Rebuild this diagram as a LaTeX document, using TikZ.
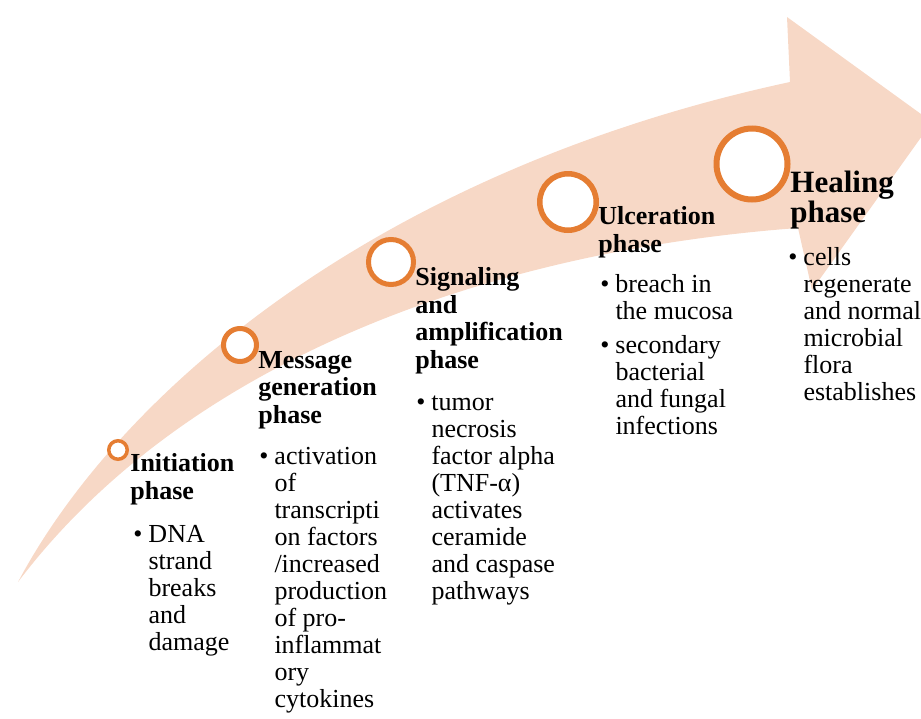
\documentclass[tikz,border=0pt]{standalone}
\usepackage{fontspec}
\setmainfont{Liberation Serif}
\definecolor{arrowPeach}{RGB}{247,216,198}
\definecolor{ringOrange}{RGB}{229,125,50}
\newcommand{\listfont}{\fontsize{13}{13.5}\selectfont}
\newcommand{\titlefont}{\fontsize{13}{13.75}\selectfont\bfseries}
\newcommand{\bigtitlefont}{\fontsize{15.5}{15}\selectfont\bfseries}

\begin{document}
\begin{tikzpicture}[x = 0.5pt, y = -0.5pt, font=\listfont]
	\tikzstyle{ringStyle}=[shape = circle, draw = ringOrange, fill = white, inner sep = 0pt]
	\tikzstyle{titleStyle}=[anchor = base west, align = left, inner sep = 0pt, font = \titlefont]
	\tikzstyle{listStyle}=[anchor = base west, inner sep = 0pt]
	\useasboundingbox (0,0) rectangle (921,718);
	\clip (0,0) rectangle (921,718);
	% the big curved arrow
	\fill[arrowPeach] (18,582) .. controls (120,390) and (380,170) .. (790,82)
		-- (787,17) -- (932,122) -- (812,290) -- (798,228)
		.. controls (500,250) and (190,355) .. (18,582) -- cycle;
	% rings
	\node[ringStyle, minimum size = 9.25pt, line width = 1.75pt] (r0) at (118,450) {};
	\node[ringStyle, minimum size = 16.5pt, line width = 2.5pt] (r1) at (240,345) {};
	\node[ringStyle, minimum size = 22.5pt, line width = 2.5pt] (r2) at (391,262) {};
	\node[ringStyle, minimum size = 28.25pt, line width = 2.75pt] (r3) at (568,202) {};
	\node[ringStyle, minimum size = 35.5pt, line width = 3pt] (r4) at (752,164) {};
	% phase titles (placed at the baseline of their last line)
	\node[titleStyle] (t0) at (130,499) {Initiation\\phase};
	\node[titleStyle] (t1) at (258,423) {Message\\generation\\phase};
	\node[titleStyle] (t2) at (415,368) {Signaling\\and\\amplification\\phase};
	\node[titleStyle] (t3) at (598,252) {Ulceration\\phase};
	\node[titleStyle, font = \bigtitlefont] (t4) at (790,222) {Healing\\phase};
	% bullet lists
	\node[listStyle] (l0) at (133,542) {\begin{tabular}[t]{@{}l@{\hspace{3pt}}l@{}}\textbullet & DNA\\ & strand\\ & breaks\\ & and\\ & damage\end{tabular}};
	\node[listStyle] (l1) at (259,464) {\begin{tabular}[t]{@{}l@{\hspace{3pt}}l@{}}\textbullet & activation\\ & of\\ & transcripti\\ & on factors\\ & /increased\\ & production\\ & of pro-\\ & inflammat\\ & ory\\ & cytokines\end{tabular}};
	\node[listStyle] (l2) at (416,410) {\begin{tabular}[t]{@{}l@{\hspace{3pt}}l@{}}\textbullet & tumor\\ & necrosis\\ & factor alpha\\ & (TNF-α)\\ & activates\\ & ceramide\\ & and caspase\\ & pathways\end{tabular}};
	\node[listStyle] (l3) at (600,292) {\begin{tabular}[t]{@{}l@{\hspace{3pt}}l@{}}\textbullet & breach in\\ & the mucosa\\[3.5pt] \textbullet & secondary\\ & bacterial\\ & and fungal\\ & infections\end{tabular}};
	\node[listStyle] (l4) at (788,265) {\begin{tabular}[t]{@{}l@{\hspace{3pt}}l@{}}\textbullet & cells\\ & regenerate\\ & and normal\\ & microbial\\ & flora\\ & establishes\end{tabular}};
	\end{tikzpicture}
\end{document}
